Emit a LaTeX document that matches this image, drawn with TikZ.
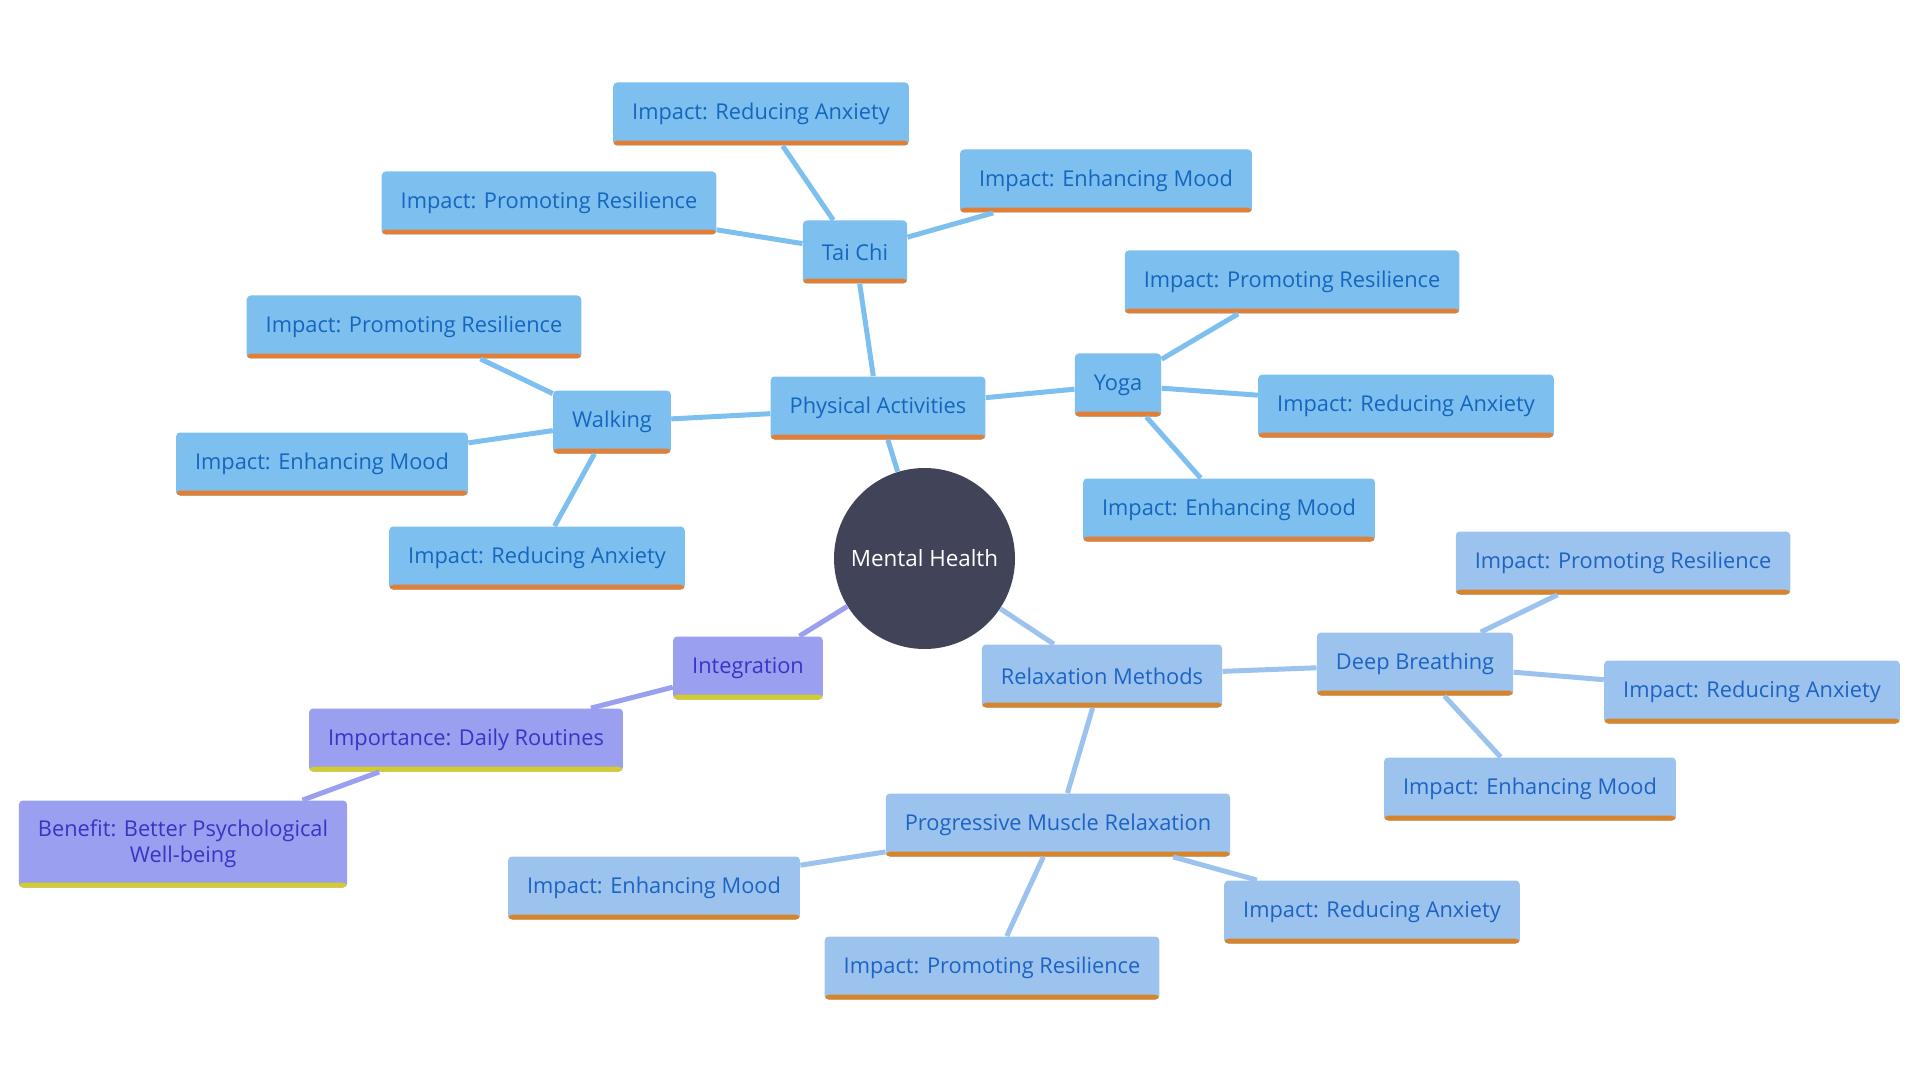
\documentclass[tikz,border=0pt]{standalone}
\usepackage{fontspec}
\setmainfont{Open Sans}
\usetikzlibrary{positioning}

\definecolor{pafill}{HTML}{7DC0F0}
\definecolor{patext}{HTML}{1466BE}
\definecolor{pabar}{HTML}{E07F35}
\definecolor{rlfill}{HTML}{9CC3EE}
\definecolor{rltext}{HTML}{1D63C4}
\definecolor{rlbar}{HTML}{D6852C}
\definecolor{igfill}{HTML}{9B9FF0}
\definecolor{igtext}{HTML}{3A33C4}
\definecolor{igbar}{HTML}{D4CB2C}
\definecolor{hubfill}{HTML}{414459}

\begin{document}
\begin{tikzpicture}[x=0.5pt, y=-0.5pt,
  barfill/.style={path picture={\fill[#1] ([yshift=2.4pt]path picture bounding box.south west) rectangle (path picture bounding box.south east);}},
  bx/.style={rounded corners=2pt, minimum height=31.5pt, inner xsep=9.5pt, font=\fontsize{10.9}{13}\selectfont},
  pa/.style={bx, fill=pafill, text=patext, barfill=pabar},
  rl/.style={bx, fill=rlfill, text=rltext, barfill=rlbar},
  ib/.style={bx, fill=igfill, text=igtext, barfill=igbar},
  hub/.style={circle, fill=hubfill, text=white, minimum size=90.5pt, inner sep=0pt, font=\fontsize{11.2}{13}\selectfont},
  lpa/.style={draw=pafill, line width=2.5pt},
  lrl/.style={draw=rlfill, line width=2.5pt},
  lib/.style={draw=igfill, line width=2.5pt}]
  \useasboundingbox (0,0) rectangle (1920,1080);
  % centre
  \node[hub] (mh) at (924.5,558.5) {Mental Health};
  % physical activities
  \node[pa] (phys)    at (878,408)  {Physical Activities};
  \node[pa] (taichi)  at (855,252)  {Tai Chi};
  \node[pa] (tcanx)   at (761,114)  {Impact: Reducing Anxiety};
  \node[pa] (tcres)   at (549,203)  {Impact: Promoting Resilience};
  \node[pa] (tcmood)  at (1106,181) {Impact: Enhancing Mood};
  \node[pa] (yoga)    at (1118,385) {Yoga};
  \node[pa] (yres)    at (1292,282) {Impact: Promoting Resilience};
  \node[pa] (yanx)    at (1406,406) {Impact: Reducing Anxiety};
  \node[pa] (ymood)   at (1229,510) {Impact: Enhancing Mood};
  \node[pa] (walk)    at (612,422)  {Walking};
  \node[pa] (wres)    at (414,327)  {Impact: Promoting Resilience};
  \node[pa] (wmood)   at (322,464)  {Impact: Enhancing Mood};
  \node[pa] (wanx)    at (537,558)  {Impact: Reducing Anxiety};
  % relaxation methods
  \node[rl] (relax)   at (1102,676) {Relaxation Methods};
  \node[rl] (breath)  at (1415,664) {Deep Breathing};
  \node[rl] (bres)    at (1623,563) {Impact: Promoting Resilience};
  \node[rl] (banx)    at (1752,692) {Impact: Reducing Anxiety};
  \node[rl] (bmood)   at (1530,789) {Impact: Enhancing Mood};
  \node[rl] (pmr)     at (1058,825) {Progressive Muscle Relaxation};
  \node[rl] (pmood)   at (654,888)  {Impact: Enhancing Mood};
  \node[rl] (panx)    at (1372,912) {Impact: Reducing Anxiety};
  \node[rl] (pres)    at (992,968)  {Impact: Promoting Resilience};
  % integration
  \node[ib] (integ)   at (748,668)  {Integration};
  \node[ib] (daily)   at (466,740)  {Importance: Daily Routines};
  \node[ib, minimum height=43.5pt, align=center] (benefit) at (183,844)
    {Benefit: Better Psychological\\Well-being};
  % edges
  \foreach \from/\to in {mh/phys, phys/taichi, phys/yoga, phys/walk,
                     taichi/tcanx, taichi/tcres, taichi/tcmood,
                     yoga/yres, yoga/yanx, yoga/ymood,
                     walk/wres, walk/wmood, walk/wanx}
    \draw[lpa] (\from) -- (\to);
  \foreach \from/\to in {mh/relax, relax/breath, relax/pmr,
                     breath/bres, breath/banx, breath/bmood,
                     pmr/pmood, pmr/panx, pmr/pres}
    \draw[lrl] (\from) -- (\to);
  \foreach \from/\to in {mh/integ, integ/daily, daily/benefit}
    \draw[lib] (\from) -- (\to);
\end{tikzpicture}
\end{document}
